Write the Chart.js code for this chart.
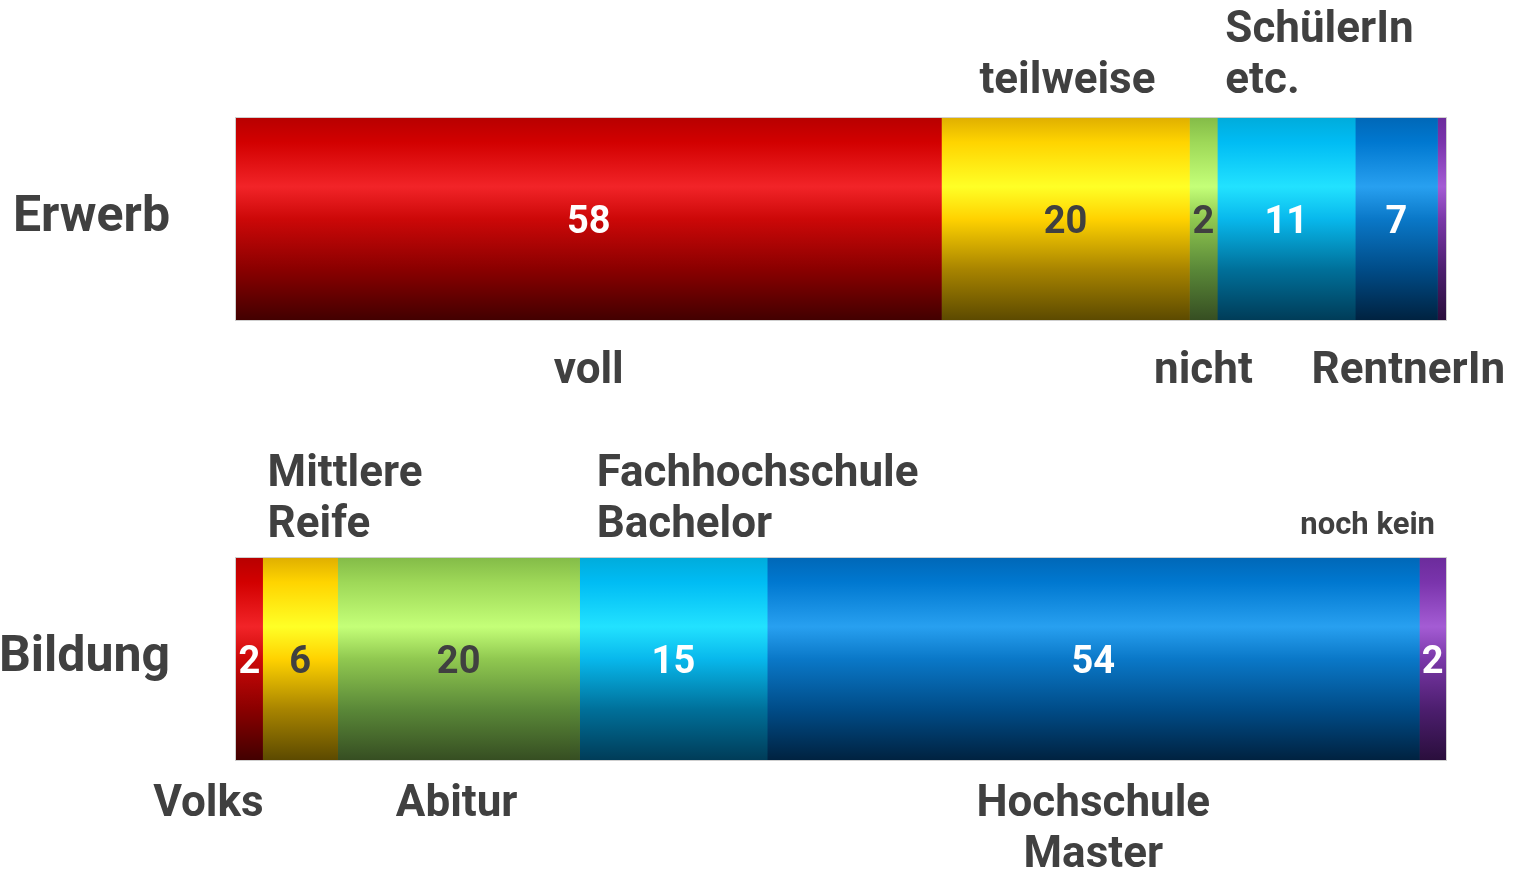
<!DOCTYPE html>
<html>
<head>
<meta charset="utf-8">
<script src="https://cdn.jsdelivr.net/npm/chart.js@4.4.1/dist/chart.umd.min.js"></script>
<style>
  body { margin: 0; background: #fff; }
  canvas { display: block; }
</style>
</head>
<body>
<canvas id="myChart" width="1525" height="873"></canvas>
<script>
// data
const rows = ['Erwerb', 'Bildung'];

const erwerbValues = [58.3, 20.5, 2.3, 11.4, 6.8, 0.7];
const erwerbShown = ['58', '20', '2', '11', '7', ''];
const erwerbNames = [['voll'], ['teilweise'], ['nicht'], ['SchülerIn', 'etc.'], ['RentnerIn'], []];

const bildungValues = [2.2, 6.2, 20.0, 15.5, 53.9, 2.2];
const bildungShown = ['2', '6', '20', '15', '54', '2'];
const bildungNames = [['Volks'], ['Mittlere', 'Reife'], ['Abitur'], ['Fachhochschule', 'Bachelor'], ['Hochschule', 'Master'], ['noch kein']];

// styles
const textColor = '#404040';
const fontFamily = 'Roboto, "DejaVu Sans", sans-serif';

const gradients = [
    [[0, '#b80000'], [0.12, '#d20000'], [0.34, '#f22428'], [0.5, '#cc0808'], [0.75, '#8a0000'], [1, '#420000']],
    [[0, '#e0b000'], [0.12, '#ffd400'], [0.34, '#ffff26'], [0.5, '#ffd200'], [0.75, '#a88400'], [1, '#5c4a00']],
    [[0, '#84bc48'], [0.12, '#9ed858'], [0.34, '#c4ff78'], [0.5, '#90c850'], [0.75, '#5a8838'], [1, '#364e22']],
    [[0, '#00acdc'], [0.12, '#00bcf4'], [0.34, '#22e2ff'], [0.5, '#08b8ec'], [0.75, '#00709a'], [1, '#003c58']],
    [[0, '#0068b8'], [0.12, '#0078d0'], [0.34, '#28a0f0'], [0.5, '#0a78c8'], [0.75, '#004c88'], [1, '#002240']],
    [[0, '#6c2c9c'], [0.12, '#7a34ac'], [0.34, '#a45cd4'], [0.5, '#7a38a8'], [0.75, '#4c1e6e'], [1, '#2a0e3c']]
];
const valueColors = ['#fff', textColor, textColor, '#fff', '#fff', '#fff'];

const barThickness = 202;
const textShift = 4;

// where the segment names go (per row, per segment)
const nameLayout = [
    [
        { pos: 'below', align: 'center', dx: 0 },
        { pos: 'above', align: 'center', dx: 2 },
        { pos: 'below', align: 'center', dx: 0 },
        { pos: 'above', align: 'left', dx: 8 },
        { pos: 'below', align: 'center', dx: 12 },
        null
    ],
    [
        { pos: 'below', align: 'right', dx: 1 },
        { pos: 'above', align: 'left', dx: 5 },
        { pos: 'below', align: 'center', dx: -2 },
        { pos: 'above', align: 'left', dx: 17 },
        { pos: 'below', align: 'center', dx: 0 },
        { pos: 'above', align: 'right', dx: -11, small: true }
    ]
];
const gapAbove = [40, 36];
const gapBelow = [48, 41];
const lineHeight = 51;

function barGradient(ctx, i) {
    if (ctx.type !== 'data') return gradients[i][2][1];
    const chart = ctx.chart;
    const yScale = chart.scales.y;
    if (!yScale) return gradients[i][2][1];
    const yc = yScale.getPixelForTick(ctx.dataIndex);
    const g = chart.ctx.createLinearGradient(0, yc - barThickness / 2, 0, yc + barThickness / 2);
    gradients[i].forEach(s => g.addColorStop(s[0], s[1]));
    return g;
}

const datasets = erwerbValues.map((v, i) => ({
    data: [erwerbValues[i], bildungValues[i]],
    backgroundColor: ctx => barGradient(ctx, i),
    borderWidth: 0,
    barThickness: barThickness,
    clip: false
}));

const labelPlugin = {
    id: 'segmentLabels',
    afterDatasetsDraw(chart) {
        const c = chart.ctx;
        const shown = [erwerbShown, bildungShown];
        const names = [erwerbNames, bildungNames];
        c.save();
        // outline round each bar
        rows.forEach((r, ri) => {
            const first = chart.getDatasetMeta(0).data[ri];
            const last = chart.getDatasetMeta(datasets.length - 1).data[ri];
            c.strokeStyle = '#cfcfcf';
            c.lineWidth = 1;
            c.strokeRect(first.base - 0.5, first.y - barThickness / 2 - 0.5, last.x - first.base + 1, barThickness + 1);
        });
        c.textBaseline = 'middle';
        datasets.forEach((ds, di) => {
            const meta = chart.getDatasetMeta(di);
            meta.data.forEach((bar, ri) => {
                const left = Math.min(bar.base, bar.x);
                const right = Math.max(bar.base, bar.x);
                const cx = (left + right) / 2;
                // value in the bar
                c.font = 'bold 38px ' + fontFamily;
                c.fillStyle = valueColors[di];
                c.textAlign = 'center';
                c.fillText(shown[ri][di], cx, bar.y + textShift);
                // name above / below
                const lay = nameLayout[ri][di];
                const lines = names[ri][di];
                if (!lay || !lines.length) return;
                c.font = 'bold ' + (lay.small ? 31 : 44) + 'px ' + fontFamily;
                c.fillStyle = textColor;
                c.textAlign = lay.align;
                let x = lay.align === 'left' ? left : lay.align === 'right' ? right : cx;
                x += lay.dx;
                const top = bar.y - barThickness / 2;
                const bottom = bar.y + barThickness / 2;
                lines.forEach((t, li) => {
                    let y;
                    if (lay.pos === 'above') {
                        y = top - gapAbove[ri] - (lines.length - 1 - li) * lineHeight;
                    } else {
                        y = bottom + gapBelow[ri] + li * lineHeight;
                    }
                    c.fillText(t, x, y + textShift);
                });
            });
        });
        c.restore();
    }
};

const config = {
    type: 'bar',
    data: { labels: rows, datasets },
    options: {
        indexAxis: 'y',
        responsive: false,
        animation: false,
        layout: { padding: { top: 219, bottom: 214, right: 79, left: 0 } },
        plugins: { legend: { display: false }, tooltip: { enabled: false } },
        scales: {
            x: { stacked: true, min: 0, max: 100, display: false },
            y: {
                stacked: true,
                offset: false,
                grid: { display: false },
                border: { display: false },
                ticks: {
                    color: textColor,
                    font: { family: fontFamily, size: 50, weight: 'bold' },
                    padding: 58,
                    labelOffset: -1
                },
                afterFit(scale) { scale.width = 236; }
            }
        }
    },
    plugins: [labelPlugin]
};

const myChart = new Chart(document.getElementById('myChart'), config);
</script>
</body>
</html>
